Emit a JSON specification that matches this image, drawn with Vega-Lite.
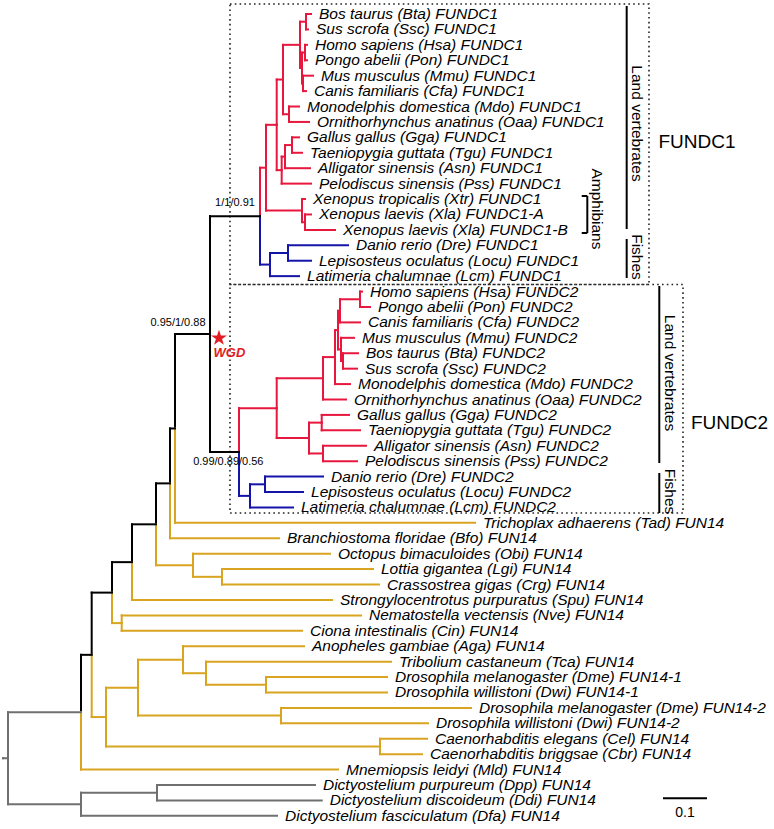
{
  "$schema": "https://vega.github.io/schema/vega-lite/v6.json",
  "width": 774,
  "height": 829,
  "autosize": {"type": "none"},
  "padding": 0,
  "background": "white",
  "config": {"view": {"stroke": null}},
  "datasets": {
    "tree": [
      {"p": -0.0114, "py": 48.2647, "x": 0, "y": 48.2647, "g": "root"},
      {"p": 0, "py": 48.2647, "x": 0.1659, "y": 45.2794, "g": "root"},
      {"p": 0, "py": 48.2647, "x": 0.1659, "y": 51.25, "g": "root"},
      {"p": 0.1659, "py": 51.25, "x": 0.3386, "y": 50.5, "g": "root"},
      {"p": 0.1659, "py": 51.25, "x": 0.6114, "y": 52, "g": "root", "l": "Dictyostelium fasciculatum (Dfa) FUN14"},
      {"p": 0.3386, "py": 50.5, "x": 0.6977, "y": 50, "g": "root", "l": "Dictyostelium purpureum (Dpp) FUN14"},
      {"p": 0.3386, "py": 50.5, "x": 0.713, "y": 51, "g": "root", "l": "Dictyostelium discoideum (Ddi) FUN14"},
      {"p": 0.1659, "py": 45.2794, "x": 0.1902, "y": 41.5587, "g": "spine"},
      {"p": 0.1659, "py": 45.2794, "x": 0.75, "y": 49, "g": "fun14", "l": "Mnemiopsis leidyi (Mld) FUN14"},
      {"p": 0.1902, "py": 41.5587, "x": 0.2364, "y": 37.5237, "g": "spine"},
      {"p": 0.1902, "py": 41.5587, "x": 0.2227, "y": 45.59375, "g": "fun14"},
      {"p": 0.2227, "py": 45.59375, "x": 0.2955, "y": 43.6875, "g": "fun14"},
      {"p": 0.2227, "py": 45.59375, "x": 0.8455, "y": 47.5, "g": "fun14"},
      {"p": 0.8455, "py": 47.5, "x": 0.9523, "y": 47, "g": "fun14", "l": "Caenorhabditis elegans (Cel) FUN14"},
      {"p": 0.8455, "py": 47.5, "x": 0.9409, "y": 48, "g": "fun14", "l": "Caenorhabditis briggsae (Cbr) FUN14"},
      {"p": 0.2955, "py": 43.6875, "x": 0.3977, "y": 41.875, "g": "fun14"},
      {"p": 0.2955, "py": 43.6875, "x": 0.6205, "y": 45.5, "g": "fun14"},
      {"p": 0.6205, "py": 45.5, "x": 1.0523, "y": 45, "g": "fun14", "l": "Drosophila melanogaster (Dme) FUN14-2"},
      {"p": 0.6205, "py": 45.5, "x": 0.9545, "y": 46, "g": "fun14", "l": "Drosophila willistoni (Dwi) FUN14-2"},
      {"p": 0.3977, "py": 41.875, "x": 0.6727, "y": 41, "g": "fun14", "l": "Anopheles gambiae (Aga) FUN14"},
      {"p": 0.3977, "py": 41.875, "x": 0.45, "y": 42.75, "g": "fun14"},
      {"p": 0.45, "py": 42.75, "x": 0.8705, "y": 42, "g": "fun14", "l": "Tribolium castaneum (Tca) FUN14"},
      {"p": 0.45, "py": 42.75, "x": 0.5864, "y": 43.5, "g": "fun14"},
      {"p": 0.5864, "py": 43.5, "x": 0.8614, "y": 43, "g": "fun14", "l": "Drosophila melanogaster (Dme) FUN14-1"},
      {"p": 0.5864, "py": 43.5, "x": 0.8614, "y": 44, "g": "fun14", "l": "Drosophila willistoni (Dwi) FUN14-1"},
      {"p": 0.2364, "py": 37.5237, "x": 0.2818, "y": 35.5474, "g": "spine"},
      {"p": 0.2364, "py": 37.5237, "x": 0.2584, "y": 39.5, "g": "fun14"},
      {"p": 0.2584, "py": 39.5, "x": 0.8023, "y": 39, "g": "fun14", "l": "Nematostella vectensis (Nve) FUN14"},
      {"p": 0.2584, "py": 39.5, "x": 0.6682, "y": 40, "g": "fun14", "l": "Ciona intestinalis (Cin) FUN14"},
      {"p": 0.2818, "py": 35.5474, "x": 0.3364, "y": 33.0947, "g": "spine"},
      {"p": 0.2818, "py": 35.5474, "x": 0.7364, "y": 38, "g": "fun14", "l": "Strongylocentrotus purpuratus (Spu) FUN14"},
      {"p": 0.3364, "py": 33.0947, "x": 0.3682, "y": 30.4395, "g": "spine"},
      {"p": 0.3364, "py": 33.0947, "x": 0.4205, "y": 35.75, "g": "fun14"},
      {"p": 0.4205, "py": 35.75, "x": 0.7318, "y": 35, "g": "fun14", "l": "Octopus bimaculoides (Obi) FUN14"},
      {"p": 0.4205, "py": 35.75, "x": 0.4864, "y": 36.5, "g": "fun14"},
      {"p": 0.4864, "py": 36.5, "x": 0.8295, "y": 36, "g": "fun14", "l": "Lottia gigantea (Lgi) FUN14"},
      {"p": 0.4864, "py": 36.5, "x": 0.8432, "y": 37, "g": "fun14", "l": "Crassostrea gigas (Crg) FUN14"},
      {"p": 0.3682, "py": 30.4395, "x": 0.3795, "y": 26.8789, "g": "spine"},
      {"p": 0.3682, "py": 30.4395, "x": 0.6159, "y": 34, "g": "fun14", "l": "Branchiostoma floridae (Bfo) FUN14"},
      {"p": 0.3795, "py": 26.8789, "x": 0.4591, "y": 20.7578, "g": "spine"},
      {"p": 0.3795, "py": 26.8789, "x": 1.0614, "y": 33, "g": "fun14", "l": "Trichoplax adhaerens (Tad) FUN14"},
      {"p": 0.4591, "py": 20.7578, "x": 0.5727, "y": 13.109, "g": "spine"},
      {"p": 0.4591, "py": 20.7578, "x": 0.525, "y": 28.40625, "g": "spine"},
      {"p": 0.5727, "py": 13.109, "x": 0.5864, "y": 9.96875, "g": "land"},
      {"p": 0.5727, "py": 13.109, "x": 0.5955, "y": 16.25, "g": "fish"},
      {"p": 0.5955, "py": 16.25, "x": 0.6364, "y": 15.5, "g": "fish"},
      {"p": 0.5955, "py": 16.25, "x": 0.6614, "y": 17, "g": "fish", "l": "Latimeria chalumnae (Lcm) FUNDC1"},
      {"p": 0.6364, "py": 15.5, "x": 0.7727, "y": 15, "g": "fish", "l": "Danio rerio (Dre) FUNDC1"},
      {"p": 0.6364, "py": 15.5, "x": 0.6886, "y": 16, "g": "fish", "l": "Lepisosteus oculatus (Locu) FUNDC1"},
      {"p": 0.5864, "py": 9.96875, "x": 0.6107, "y": 7.1875, "g": "land"},
      {"p": 0.5864, "py": 9.96875, "x": 0.6682, "y": 12.75, "g": "land"},
      {"p": 0.6682, "py": 12.75, "x": 0.675, "y": 12, "g": "land", "l": "Xenopus tropicalis (Xtr) FUNDC1"},
      {"p": 0.6682, "py": 12.75, "x": 0.675, "y": 13.5, "g": "land"},
      {"p": 0.675, "py": 13.5, "x": 0.6886, "y": 13, "g": "land", "l": "Xenopus laevis (Xla) FUNDC1-A"},
      {"p": 0.675, "py": 13.5, "x": 0.7432, "y": 14, "g": "land", "l": "Xenopus laevis (Xla) FUNDC1-B"},
      {"p": 0.6107, "py": 7.1875, "x": 0.625, "y": 4.25, "g": "land"},
      {"p": 0.6107, "py": 7.1875, "x": 0.622, "y": 10.125, "g": "land"},
      {"p": 0.622, "py": 10.125, "x": 0.6295, "y": 9.25, "g": "land"},
      {"p": 0.622, "py": 10.125, "x": 0.6886, "y": 11, "g": "land", "l": "Pelodiscus sinensis (Pss) FUNDC1"},
      {"p": 0.6295, "py": 9.25, "x": 0.6455, "y": 8.5, "g": "land"},
      {"p": 0.6295, "py": 9.25, "x": 0.6864, "y": 10, "g": "land", "l": "Alligator sinensis (Asn) FUNDC1"},
      {"p": 0.6455, "py": 8.5, "x": 0.6614, "y": 8, "g": "land", "l": "Gallus gallus (Gga) FUNDC1"},
      {"p": 0.6455, "py": 8.5, "x": 0.6682, "y": 9, "g": "land", "l": "Taeniopygia guttata (Tgu) FUNDC1"},
      {"p": 0.625, "py": 4.25, "x": 0.6636, "y": 2, "g": "land"},
      {"p": 0.625, "py": 4.25, "x": 0.6386, "y": 6.5, "g": "land"},
      {"p": 0.6386, "py": 6.5, "x": 0.6614, "y": 6, "g": "land", "l": "Monodelphis domestica (Mdo) FUNDC1"},
      {"p": 0.6386, "py": 6.5, "x": 0.6841, "y": 7, "g": "land", "l": "Ornithorhynchus anatinus (Oaa) FUNDC1"},
      {"p": 0.6636, "py": 2, "x": 0.6773, "y": 0.5, "g": "land"},
      {"p": 0.6636, "py": 2, "x": 0.6682, "y": 3.5, "g": "land"},
      {"p": 0.6773, "py": 0.5, "x": 0.6886, "y": 0, "g": "land", "l": "Bos taurus (Bta) FUNDC1"},
      {"p": 0.6773, "py": 0.5, "x": 0.6818, "y": 1, "g": "land", "l": "Sus scrofa (Ssc) FUNDC1"},
      {"p": 0.6682, "py": 3.5, "x": 0.675, "y": 2.5, "g": "land"},
      {"p": 0.6682, "py": 3.5, "x": 0.6705, "y": 4.5, "g": "land"},
      {"p": 0.675, "py": 2.5, "x": 0.6795, "y": 2, "g": "land", "l": "Homo sapiens (Hsa) FUNDC1"},
      {"p": 0.675, "py": 2.5, "x": 0.6795, "y": 3, "g": "land", "l": "Pongo abelii (Pon) FUNDC1"},
      {"p": 0.6705, "py": 4.5, "x": 0.6932, "y": 4, "g": "land", "l": "Mus musculus (Mmu) FUNDC1"},
      {"p": 0.6705, "py": 4.5, "x": 0.6773, "y": 5, "g": "land", "l": "Canis familiaris (Cfa) FUNDC1"},
      {"p": 0.525, "py": 28.40625, "x": 0.6107, "y": 25.5625, "g": "land"},
      {"p": 0.525, "py": 28.40625, "x": 0.55, "y": 31.25, "g": "fish"},
      {"p": 0.55, "py": 31.25, "x": 0.5841, "y": 30.5, "g": "fish"},
      {"p": 0.55, "py": 31.25, "x": 0.6477, "y": 32, "g": "fish", "l": "Latimeria chalumnae (Lcm) FUNDC2"},
      {"p": 0.5841, "py": 30.5, "x": 0.7159, "y": 30, "g": "fish", "l": "Danio rerio (Dre) FUNDC2"},
      {"p": 0.5841, "py": 30.5, "x": 0.6705, "y": 31, "g": "fish", "l": "Lepisosteus oculatus (Locu) FUNDC2"},
      {"p": 0.6107, "py": 25.5625, "x": 0.7159, "y": 23.625, "g": "land"},
      {"p": 0.6107, "py": 25.5625, "x": 0.6841, "y": 27.5, "g": "land"},
      {"p": 0.6841, "py": 27.5, "x": 0.713, "y": 26.5, "g": "land"},
      {"p": 0.6841, "py": 27.5, "x": 0.7159, "y": 28.5, "g": "land"},
      {"p": 0.713, "py": 26.5, "x": 0.775, "y": 26, "g": "land", "l": "Gallus gallus (Gga) FUNDC2"},
      {"p": 0.713, "py": 26.5, "x": 0.8, "y": 27, "g": "land", "l": "Taeniopygia guttata (Tgu) FUNDC2"},
      {"p": 0.7159, "py": 28.5, "x": 0.8136, "y": 28, "g": "land", "l": "Alligator sinensis (Asn) FUNDC2"},
      {"p": 0.7159, "py": 28.5, "x": 0.7932, "y": 29, "g": "land", "l": "Pelodiscus sinensis (Pss) FUNDC2"},
      {"p": 0.7159, "py": 23.625, "x": 0.7432, "y": 22.25, "g": "land"},
      {"p": 0.7159, "py": 23.625, "x": 0.7682, "y": 25, "g": "land", "l": "Ornithorhynchus anatinus (Oaa) FUNDC2"},
      {"p": 0.7432, "py": 22.25, "x": 0.75, "y": 20.5, "g": "land"},
      {"p": 0.7432, "py": 22.25, "x": 0.7773, "y": 24, "g": "land", "l": "Monodelphis domestica (Mdo) FUNDC2"},
      {"p": 0.75, "py": 20.5, "x": 0.7545, "y": 19.25, "g": "land"},
      {"p": 0.75, "py": 20.5, "x": 0.7568, "y": 21.75, "g": "land"},
      {"p": 0.7545, "py": 19.25, "x": 0.8, "y": 18.5, "g": "land"},
      {"p": 0.7545, "py": 19.25, "x": 0.8, "y": 20, "g": "land", "l": "Canis familiaris (Cfa) FUNDC2"},
      {"p": 0.8, "py": 18.5, "x": 0.8045, "y": 18, "g": "land", "l": "Homo sapiens (Hsa) FUNDC2"},
      {"p": 0.8, "py": 18.5, "x": 0.8227, "y": 19, "g": "land", "l": "Pongo abelii (Pon) FUNDC2"},
      {"p": 0.7568, "py": 21.75, "x": 0.7864, "y": 21, "g": "land", "l": "Mus musculus (Mmu) FUNDC2"},
      {"p": 0.7568, "py": 21.75, "x": 0.7614, "y": 22.5, "g": "land"},
      {"p": 0.7614, "py": 22.5, "x": 0.7955, "y": 22, "g": "land", "l": "Bos taurus (Bta) FUNDC2"},
      {"p": 0.7614, "py": 22.5, "x": 0.7932, "y": 23, "g": "land", "l": "Sus scrofa (Ssc) FUNDC2"}
    ]
  },
  "layer": [
    {
      "data": {"values": [
        {"x1": 0.5045, "x2": 1.4568, "y1": -0.6485, "y2": 17.543},
        {"x1": 0.5045, "x2": 1.5341, "y1": 17.543, "y2": 32.36}
      ]},
      "mark": {"type": "rect", "fill": null, "fillOpacity": 0, "stroke": "#222222", "strokeWidth": 1.6, "strokeDash": [1.6, 3.2]},
      "encoding": {
        "x": {"field": "x1", "type": "quantitative", "scale": {"domain": [-0.01818, 1.74091], "nice": false, "zero": false}, "axis": null},
        "x2": {"field": "x2"},
        "y": {"field": "y1", "type": "quantitative", "scale": {"domain": [-0.9079, 52.8534], "reverse": true, "nice": false, "zero": false}, "axis": null},
        "y2": {"field": "y2"}
      }
    },
    {
      "data": {"name": "tree"},
      "mark": {"type": "rule", "strokeWidth": 2, "strokeCap": "square"},
      "encoding": {
        "x": {"field": "p", "type": "quantitative", "scale": {"domain": [-0.01818, 1.74091], "nice": false, "zero": false}, "axis": null},
        "y": {"field": "py", "type": "quantitative", "scale": {"domain": [-0.9079, 52.8534], "reverse": true, "nice": false, "zero": false}, "axis": null},
        "y2": {"field": "y"},
        "color": {"field": "g", "type": "nominal", "legend": null, "scale": {"domain": ["root", "spine", "fun14", "land", "fish"], "range": ["#707070", "#000000", "#D9A521", "#E8173E", "#1414A8"]}}
      }
    },
    {
      "data": {"name": "tree"},
      "mark": {"type": "rule", "strokeWidth": 2, "strokeCap": "square"},
      "encoding": {
        "x": {"field": "p", "type": "quantitative", "scale": {"domain": [-0.01818, 1.74091], "nice": false, "zero": false}, "axis": null},
        "x2": {"field": "x"},
        "y": {"field": "y", "type": "quantitative", "scale": {"domain": [-0.9079, 52.8534], "reverse": true, "nice": false, "zero": false}, "axis": null},
        "color": {"field": "g", "type": "nominal", "legend": null, "scale": {"domain": ["root", "spine", "fun14", "land", "fish"], "range": ["#707070", "#000000", "#D9A521", "#E8173E", "#1414A8"]}}
      }
    },
    {
      "data": {"name": "tree"},
      "transform": [{"filter": "isValid(datum.l)"}],
      "mark": {"type": "text", "align": "left", "baseline": "middle", "dx": 8, "font": "Liberation Sans", "fontSize": 15.5, "fontStyle": "italic", "color": "#000000"},
      "encoding": {
        "x": {"field": "x", "type": "quantitative", "scale": {"domain": [-0.01818, 1.74091], "nice": false, "zero": false}, "axis": null},
        "y": {"field": "y", "type": "quantitative", "scale": {"domain": [-0.9079, 52.8534], "reverse": true, "nice": false, "zero": false}, "axis": null},
        "text": {"field": "l"}
      }
    },
    {
      "data": {"values": [
        {"x1": 1.4061, "x2": 1.4061, "y1": -0.519, "y2": 13.943},
        {"x1": 1.4061, "x2": 1.4061, "y1": 14.591, "y2": 17.121},
        {"x1": 1.4802, "x2": 1.4802, "y1": 17.64, "y2": 29.118},
        {"x1": 1.4802, "x2": 1.4802, "y1": 29.767, "y2": 32.36},
        {"x1": 1.3166, "x2": 1.3166, "y1": 11.803, "y2": 14.202},
        {"x1": 1.3039, "x2": 1.3166, "y1": 11.803, "y2": 11.803},
        {"x1": 1.3039, "x2": 1.3166, "y1": 14.202, "y2": 14.202},
        {"x1": 1.4886, "x2": 1.5886, "y1": 50.863, "y2": 50.863}
      ]},
      "mark": {"type": "rule", "strokeWidth": 2, "color": "#000000"},
      "encoding": {
        "x": {"field": "x1", "type": "quantitative", "scale": {"domain": [-0.01818, 1.74091], "nice": false, "zero": false}, "axis": null},
        "x2": {"field": "x2"},
        "y": {"field": "y1", "type": "quantitative", "scale": {"domain": [-0.9079, 52.8534], "reverse": true, "nice": false, "zero": false}, "axis": null},
        "y2": {"field": "y2"}
      }
    },
    {
      "data": {"values": [
        {"x": 1.4295, "y": 7.101, "t": "Land vertebrates"},
        {"x": 1.4295, "y": 15.759, "t": "Fishes"},
        {"x": 1.3393, "y": 12.646, "t": "Amphibians"},
        {"x": 1.5045, "y": 23.28, "t": "Land vertebrates"},
        {"x": 1.5045, "y": 30.966, "t": "Fishes"}
      ]},
      "mark": {"type": "text", "angle": 90, "align": "center", "baseline": "middle", "font": "Liberation Sans", "fontSize": 15.5, "color": "#000000"},
      "encoding": {
        "x": {"field": "x", "type": "quantitative", "scale": {"domain": [-0.01818, 1.74091], "nice": false, "zero": false}, "axis": null},
        "y": {"field": "y", "type": "quantitative", "scale": {"domain": [-0.9079, 52.8534], "reverse": true, "nice": false, "zero": false}, "axis": null},
        "text": {"field": "t"}
      }
    },
    {
      "data": {"values": [
        {"x": 1.5659, "y": 8.281, "t": "FUNDC1"},
        {"x": 1.6398, "y": 26.543, "t": "FUNDC2"}
      ]},
      "mark": {"type": "text", "align": "center", "baseline": "middle", "font": "Liberation Sans", "fontSize": 19, "color": "#000000"},
      "encoding": {
        "x": {"field": "x", "type": "quantitative", "scale": {"domain": [-0.01818, 1.74091], "nice": false, "zero": false}, "axis": null},
        "y": {"field": "y", "type": "quantitative", "scale": {"domain": [-0.9079, 52.8534], "reverse": true, "nice": false, "zero": false}, "axis": null},
        "text": {"field": "t"}
      }
    },
    {
      "data": {"values": [
        {"x": 0.5159, "y": 12.257, "t": "1/1/0.91"},
        {"x": 0.3864, "y": 20.039, "t": "0.95/1/0.88"},
        {"x": 0.5007, "y": 29.053, "t": "0.99/0.89/0.56"}
      ]},
      "mark": {"type": "text", "align": "center", "baseline": "middle", "font": "Liberation Sans", "fontSize": 11, "color": "#000000"},
      "encoding": {
        "x": {"field": "x", "type": "quantitative", "scale": {"domain": [-0.01818, 1.74091], "nice": false, "zero": false}, "axis": null},
        "y": {"field": "y", "type": "quantitative", "scale": {"domain": [-0.9079, 52.8534], "reverse": true, "nice": false, "zero": false}, "axis": null},
        "text": {"field": "t"}
      }
    },
    {
      "data": {"values": [{"x": 1.5386, "y": 51.816, "t": "0.1"}]},
      "mark": {"type": "text", "align": "center", "baseline": "middle", "font": "Liberation Sans", "fontSize": 14, "color": "#000000"},
      "encoding": {
        "x": {"field": "x", "type": "quantitative", "scale": {"domain": [-0.01818, 1.74091], "nice": false, "zero": false}, "axis": null},
        "y": {"field": "y", "type": "quantitative", "scale": {"domain": [-0.9079, 52.8534], "reverse": true, "nice": false, "zero": false}, "axis": null},
        "text": {"field": "t"}
      }
    },
    {
      "data": {"values": [{"x": 0.5034, "y": 21.984, "t": "WGD"}]},
      "mark": {"type": "text", "align": "center", "baseline": "middle", "font": "Liberation Sans", "fontSize": 13, "fontWeight": "bold", "fontStyle": "italic", "color": "#E31B23"},
      "encoding": {
        "x": {"field": "x", "type": "quantitative", "scale": {"domain": [-0.01818, 1.74091], "nice": false, "zero": false}, "axis": null},
        "y": {"field": "y", "type": "quantitative", "scale": {"domain": [-0.9079, 52.8534], "reverse": true, "nice": false, "zero": false}, "axis": null},
        "text": {"field": "t"}
      }
    },
    {
      "data": {"values": [{"x": 0.4795, "y": 21.012}]},
      "mark": {"type": "point", "shape": "M0,-1L0.2245,-0.309L0.9511,-0.309L0.3633,0.118L0.5878,0.809L0,0.382L-0.5878,0.809L-0.3633,0.118L-0.9511,-0.309L-0.2245,-0.309Z", "filled": true, "size": 280, "color": "#E31B23", "opacity": 1},
      "encoding": {
        "x": {"field": "x", "type": "quantitative", "scale": {"domain": [-0.01818, 1.74091], "nice": false, "zero": false}, "axis": null},
        "y": {"field": "y", "type": "quantitative", "scale": {"domain": [-0.9079, 52.8534], "reverse": true, "nice": false, "zero": false}, "axis": null}
      }
    }
  ]
}
